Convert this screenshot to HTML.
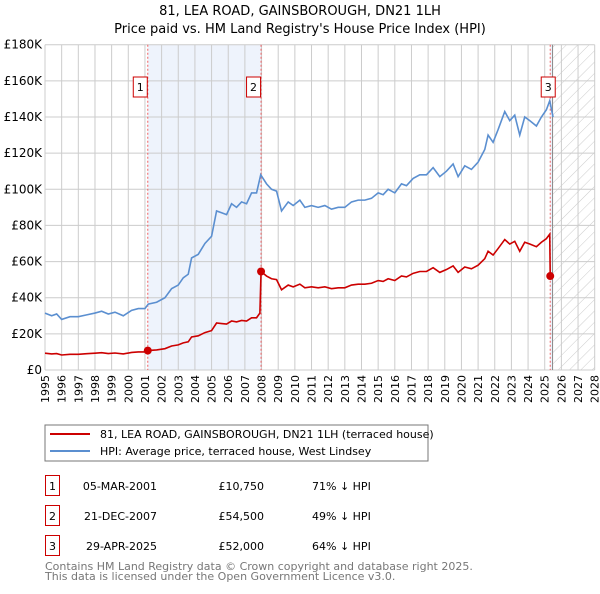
<!DOCTYPE html>
<html><head><meta charset="utf-8"><style>
body{margin:0;background:#fff;font-family:"DejaVu Sans","Liberation Sans",sans-serif;}
svg text{font-family:"DejaVu Sans","Liberation Sans",sans-serif;}
</style></head><body>
<svg id="c" width="600" height="590" xmlns="http://www.w3.org/2000/svg">
<defs><pattern id="hatch" width="8" height="8" patternUnits="userSpaceOnUse" patternTransform="rotate(45)"><line x1="0" y1="0" x2="0" y2="8" stroke="#ccc" stroke-width="1"/></pattern></defs>
<text x="300" y="15" text-anchor="middle" font-size="13">81, LEA ROAD, GAINSBOROUGH, DN21 1LH</text>
<text x="300" y="33" text-anchor="middle" font-size="13">Price paid vs. HM Land Registry's House Price Index (HPI)</text>
<g id="plot"></g>
<rect x="45" y="425" width="383" height="36" fill="#fff" stroke="#777"/>
<line x1="50" y1="434" x2="90" y2="434" stroke="#cc0000" stroke-width="2"/>
<text x="100" y="438" font-size="11">81, LEA ROAD, GAINSBOROUGH, DN21 1LH (terraced house)</text>
<line x1="50" y1="451" x2="90" y2="451" stroke="#5b8fd0" stroke-width="2"/>
<text x="100" y="455" font-size="11">HPI: Average price, terraced house, West Lindsey</text>
<g font-size="11">
<rect x="45.5" y="475.5" width="14" height="20" fill="none" stroke="#cc0000"/><text x="52.5" y="490" text-anchor="middle">1</text>
<text x="157" y="490" text-anchor="end">05-MAR-2001</text><text x="264" y="490" text-anchor="end">£10,750</text><text x="312" y="490">71% ↓ HPI</text>
<rect x="45.5" y="505.5" width="14" height="20" fill="none" stroke="#cc0000"/><text x="52.5" y="520" text-anchor="middle">2</text>
<text x="157" y="520" text-anchor="end">21-DEC-2007</text><text x="264" y="520" text-anchor="end">£54,500</text><text x="312" y="520">49% ↓ HPI</text>
<rect x="45.5" y="535.5" width="14" height="20" fill="none" stroke="#cc0000"/><text x="52.5" y="550" text-anchor="middle">3</text>
<text x="157" y="550" text-anchor="end">29-APR-2025</text><text x="264" y="550" text-anchor="end">£52,000</text><text x="312" y="550">64% ↓ HPI</text>
</g>
<text x="45" y="570" font-size="11" fill="#777">Contains HM Land Registry data © Crown copyright and database right 2025.</text>
<text x="45" y="580" font-size="11" fill="#777">This data is licensed under the Open Government Licence v3.0.</text>
</svg>
<script>
const hpiYears=[1995.0,1995.4,1995.7,1996.0,1996.5,1997.0,1997.5,1998.0,1998.4,1998.8,1999.2,1999.7,2000.2,2000.6,2001.0,2001.2,2001.7,2002.2,2002.6,2003.0,2003.3,2003.6,2003.8,2004.2,2004.6,2005.0,2005.3,2005.6,2005.9,2006.2,2006.5,2006.8,2007.1,2007.4,2007.7,2007.95,2008.3,2008.6,2008.9,2009.2,2009.6,2009.9,2010.3,2010.6,2011.0,2011.4,2011.8,2012.2,2012.6,2013.0,2013.4,2013.8,2014.2,2014.6,2015.0,2015.3,2015.6,2016.0,2016.4,2016.7,2017.1,2017.5,2017.9,2018.3,2018.7,2019.1,2019.5,2019.8,2020.2,2020.6,2021.0,2021.4,2021.6,2021.9,2022.2,2022.6,2022.9,2023.2,2023.5,2023.8,2024.1,2024.5,2024.8,2025.1,2025.3,2025.5];
const hpiValues=[31.5,30,31,28,29.5,29.5,30.5,31.5,32.5,31,32,30,33,34,34,36.5,37.5,40,45,47,51,53,62,64,70,74,88,87,86,92,90,93,92,98,98,108,103,100,99,88,93,91,94,90,91,90,91,89,90,90,93,94,94,95,98,97,100,98,103,102,106,108,108,112,107,110,114,107,113,111,115,122,130,126,133,143,138,141,130,140,138,135,140,144,149,140];
const priceYears=[1995.0,1995.4,1995.7,1996.0,1996.5,1997.0,1997.5,1998.0,1998.4,1998.8,1999.2,1999.7,2000.2,2000.6,2001.0,2001.17,2001.7,2002.2,2002.6,2003.0,2003.3,2003.6,2003.8,2004.2,2004.6,2005.0,2005.3,2005.6,2005.9,2006.2,2006.5,2006.8,2007.1,2007.4,2007.7,2007.9,2007.97,2008.3,2008.6,2008.9,2009.2,2009.6,2009.9,2010.3,2010.6,2011.0,2011.4,2011.8,2012.2,2012.6,2013.0,2013.4,2013.8,2014.2,2014.6,2015.0,2015.3,2015.6,2016.0,2016.4,2016.7,2017.1,2017.5,2017.9,2018.3,2018.7,2019.1,2019.5,2019.8,2020.2,2020.6,2021.0,2021.4,2021.6,2021.9,2022.2,2022.6,2022.9,2023.2,2023.5,2023.8,2024.1,2024.5,2024.8,2025.1,2025.3,2025.33];
const priceValues=[9.3,8.9,9.1,8.3,8.7,8.7,9.0,9.3,9.6,9.1,9.4,8.9,9.7,10.0,10.0,10.75,11.1,11.8,13.3,13.9,15.0,15.6,18.3,18.9,20.7,21.8,26.0,25.7,25.4,27.1,26.6,27.4,27.1,28.9,28.9,31.5,54.5,52,50.5,50,44.4,47,46,47.5,45.5,46,45.5,46,45,45.5,45.5,47,47.5,47.5,48,49.5,49,50.5,49.5,52,51.5,53.5,54.5,54.5,56.6,54,55.6,57.6,54,57,56,58,61.6,65.7,63.6,67.2,72.2,69.7,71.2,65.7,70.7,69.7,68.2,70.7,72.7,75.2,52];
const saleLabels=["1","2","3"];
const saleYears=[2001.17,2007.97,2025.33];
const saleValues=[10.75,54.5,52];
const yTicks=[0,20,40,60,80,100,120,140,160,180];
const yTickLabels=["£0","£20K","£40K","£60K","£80K","£100K","£120K","£140K","£160K","£180K"];
const xTicks=[1995,1996,1997,1998,1999,2000,2001,2002,2003,2004,2005,2006,2007,2008,2009,2010,2011,2012,2013,2014,2015,2016,2017,2018,2019,2020,2021,2022,2023,2024,2025,2026,2027,2028];
const forecastStart=2025.47;

const NS="http://www.w3.org/2000/svg";
const L=45,R=594.7,T=44.7,B=370;
const X=y=>L+(y-1995)*(R-L)/33;
const Y=v=>B-v*(B-T)/180;
const g=document.getElementById('plot');
function mk(t,a,p){const e=document.createElementNS(NS,t);for(const k in a)e.setAttribute(k,a[k]);(p||g).appendChild(e);return e;}
// shaded ownership spans
let s=mk('rect',{x:X(saleYears[0]),y:T,width:X(saleYears[1])-X(saleYears[0]),height:B-T,fill:'#eef3fc'});


s=mk('rect',{x:X(saleYears[2]),y:T,width:X(forecastStart)-X(saleYears[2]),height:B-T,fill:'#eef3fc'});


s=mk('rect',{x:X(forecastStart),y:T,width:R-X(forecastStart),height:B-T,fill:'url(#hatch)'});


// grid
xTicks.forEach(t=>{const l=mk('line',{x1:X(t),x2:X(t),y1:T,y2:B,stroke:'#ccc','stroke-width':1});


const tx=mk('text',{x:0,y:0,'font-size':11,'text-anchor':'end',transform:`translate(${X(t)+4},${B+5}) rotate(-90)`});tx.textContent=t;

});
yTicks.forEach((t,i)=>{const l=mk('line',{x1:L,x2:R,y1:Y(t),y2:Y(t),stroke:'#ccc','stroke-width':1});


const tx=mk('text',{x:L-3,y:Y(t)+4,'font-size':12,'text-anchor':'end'});tx.textContent=yTickLabels[i];

});
const fl=mk('line',{x1:X(forecastStart),x2:X(forecastStart),y1:T,y2:B,stroke:'#888','stroke-width':1});


// sale markers lines
saleYears.forEach((y,i)=>{const l=mk('line',{x1:X(y),x2:X(y),y1:T,y2:B,stroke:'#f06060','stroke-width':1,'stroke-dasharray':'2,2'});


const bx=i==2?X(y)-9:X(y)-14.5;
const r=mk('rect',{x:bx,y:77,width:14,height:20,fill:'#fff',stroke:'#cc0000'});


const tx=mk('text',{x:bx+7,y:91,'font-size':11,'text-anchor':'middle'});tx.textContent=saleLabels[i];

});
// series
const hp=mk('polyline',{points:hpiYears.map((y,i)=>X(y)+','+Y(hpiValues[i])).join(' '),fill:'none',stroke:'#5b8fd0','stroke-width':1.6});


const pp=mk('polyline',{points:priceYears.map((y,i)=>X(y)+','+Y(priceValues[i])).join(' '),fill:'none',stroke:'#cc0000','stroke-width':1.6});


saleYears.forEach((y,i)=>{const c=mk('circle',{cx:X(y),cy:Y(saleValues[i]),r:4,fill:'#cc0000'});

});
</script>
</body></html>
